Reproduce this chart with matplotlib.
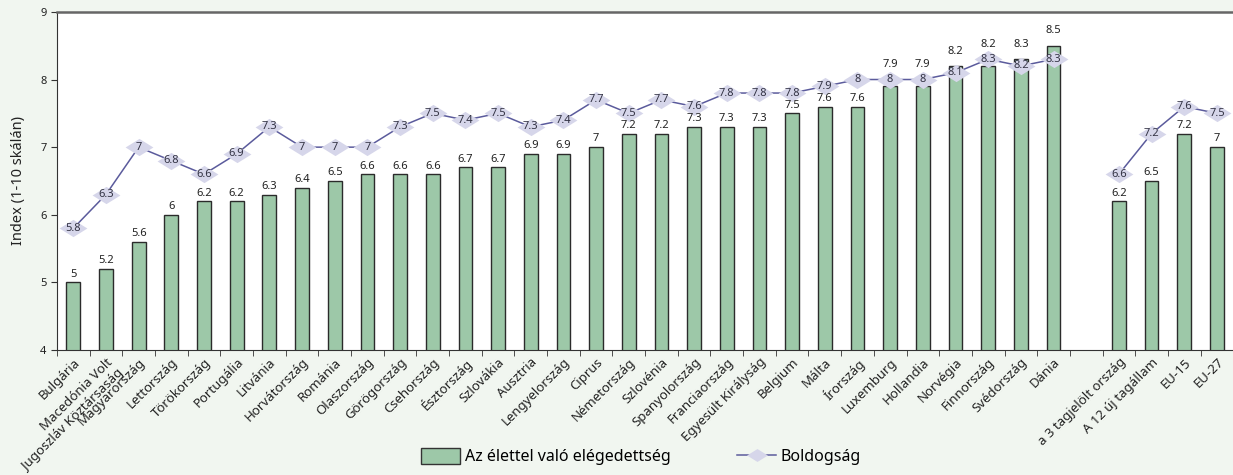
import numpy as np
import matplotlib
matplotlib.use("Agg")
import matplotlib.pyplot as plt
from matplotlib.path import Path
from matplotlib.lines import Line2D
from matplotlib.patches import Patch

plt.rcParams['font.family'] = ['Noto Sans', 'DejaVu Sans']

# Adatok
countries = ["Bulgária", "Macedónia Volt\nJugoszláv Köztársaság", "Magyarország", "Lettország",
             "Törökország", "Portugália", "Litvánia", "Horvátország", "Románia", "Olaszország",
             "Görögország", "Csehország", "Észtország", "Szlovákia", "Ausztria", "Lengyelország",
             "Ciprus", "Németország", "Szlovénia", "Spanyolország", "Franciaország",
             "Egyesült Királyság", "Belgium", "Málta", "Írország", "Luxemburg", "Hollandia",
             "Norvégia", "Finnország", "Svédország", "Dánia"]
satisfaction = [5, 5.2, 5.6, 6, 6.2, 6.2, 6.3, 6.4, 6.5, 6.6, 6.6, 6.6, 6.7, 6.7, 6.9, 6.9,
                7, 7.2, 7.2, 7.3, 7.3, 7.3, 7.5, 7.6, 7.6, 7.9, 7.9, 8.2, 8.2, 8.3, 8.5]
happiness = [5.8, 6.3, 7, 6.8, 6.6, 6.9, 7.3, 7, 7, 7, 7.3, 7.5, 7.4, 7.5, 7.3, 7.4,
             7.7, 7.5, 7.7, 7.6, 7.8, 7.8, 7.8, 7.9, 8, 8, 8, 8.1, 8.3, 8.2, 8.3]

groups = ["a 3 tagjelölt ország", "A 12 új tagállam", "EU-15", "EU-27"]
group_satisfaction = [6.2, 6.5, 7.2, 7]
group_happiness = [6.6, 7.2, 7.6, 7.5]

bg = '#f1f6f0'
bar_color = '#9dc8a8'
line_color = '#5b5b9c'
diamond_color = '#d6d6ea'

x_c = np.arange(len(countries))
x_g = np.arange(len(groups)) + len(countries) + 1
n_slots = len(countries) + 1 + len(groups)

diamond = Path([(-1, 0), (0, 0.62), (1, 0), (0, -0.62), (-1, 0)],
               [Path.MOVETO, Path.LINETO, Path.LINETO, Path.LINETO, Path.CLOSEPOLY])

fig = plt.figure(figsize=(12.33, 4.75), dpi=100, facecolor=bg)
ax = fig.add_axes([0.0462, 0.263, 0.954, 0.712])
ax.set_facecolor('white')

for xs, sat, hap in [(x_c, satisfaction, happiness), (x_g, group_satisfaction, group_happiness)]:
    ax.bar(xs, sat, width=0.42, bottom=0, color=bar_color, edgecolor='#2b2b2b', linewidth=1.0, zorder=2)
    for x, v, h in zip(xs, sat, hap):
        # ha a címke ütközne a rombusszal, fölé kerül
        y = v + 0.04
        if abs(h - v) < 0.25:
            y = max(v, h) + 0.14
        ax.text(x, y, f"{v:g}", ha='center', va='bottom', fontsize=8, color='#222222', zorder=6)
    ax.plot(xs, hap, color=line_color, linewidth=1.1, marker=diamond, markersize=20,
            markerfacecolor=diamond_color, markeredgecolor='none', zorder=4)
    for x, v in zip(xs, hap):
        ax.text(x, v, f"{v:g}", ha='center', va='center', fontsize=8, color='#333344', zorder=5)

labels = countries + [""] + groups
ax.set_xticks(np.arange(n_slots))
ax.set_xticklabels(labels, rotation=45, ha='right', rotation_mode='anchor',
                   fontsize=9.5, color='#222222')
ax.tick_params(axis='x', which='major', length=0, pad=4)
ax.set_xticks(np.arange(-0.5, n_slots), minor=True)
ax.tick_params(axis='x', which='minor', length=4, direction='out', color='#333333')
ax.set_xlim(-0.5, n_slots - 0.5)

ax.set_ylim(4, 9)
ax.set_yticks([4, 5, 6, 7, 8, 9])
ax.tick_params(axis='y', length=4, direction='out', labelsize=8, color='#333333', labelcolor='#222222')
ax.set_ylabel("Index (1-10 skálán)", fontsize=10.5, color='#222222', labelpad=10)

ax.spines['top'].set_color('#666666')
ax.spines['top'].set_linewidth(1.8)
ax.spines['right'].set_visible(False)
ax.spines['left'].set_color('#333333')
ax.spines['bottom'].set_color('#333333')

handles = [Patch(facecolor=bar_color, edgecolor='#333333', linewidth=1.0),
           Line2D([0], [0], color=line_color, linewidth=1.1, marker=diamond, markersize=15,
                  markerfacecolor=diamond_color, markeredgecolor='none')]
fig.legend(handles, ["Az élettel való elégedettség", "Boldogság"], loc='lower center',
           bbox_to_anchor=(0.52, -0.01), ncol=2, frameon=False, fontsize=11.5,
           columnspacing=4.2, handlelength=2.4, handleheight=1.1, handletextpad=0.3)

fig.savefig("out.png", dpi=100, facecolor=bg)
